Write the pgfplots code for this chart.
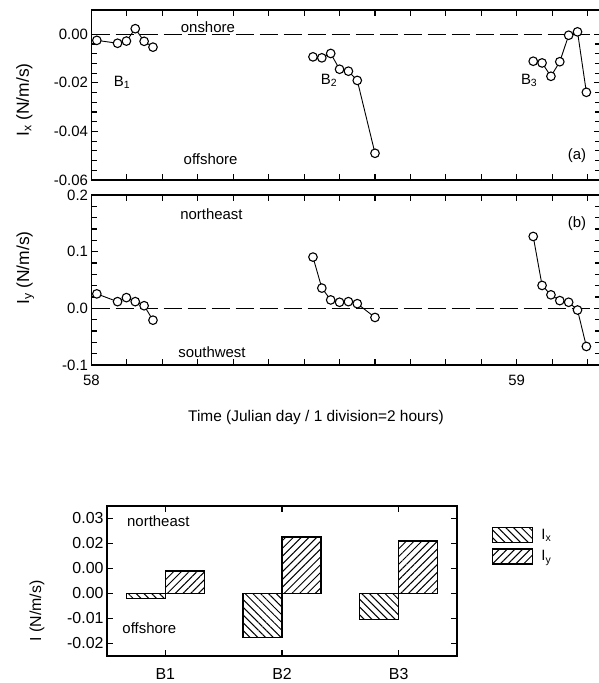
\documentclass[border=0pt]{standalone}
\usepackage{pgfplots}
\pgfplotsset{compat=1.18}
\usepackage{fontspec}
\setmainfont{Liberation Sans}
\usetikzlibrary{patterns.meta}

\newcommand{\fs}{\fontsize{15}{18}\selectfont}
\newcommand{\fb}{\fontsize{16}{19}\selectfont}
\newcommand{\fl}{\fontsize{17.5}{20}\selectfont}

\pgfplotsset{
  panel/.style={
    scale only axis, width=508.5bp, height=170bp, anchor=south west,
    xmin=0, xmax=28.7,
    xtick={0,2,...,28},
    tick align=inside, tick pos=both,
    major tick length=6bp, minor tick length=5bp,
    axis line style={line width=1.3bp},
    every tick/.style={black, line width=1.1bp},
    minor y tick num=4,
    scaled y ticks=false, scaled x ticks=false,
    tick label style={font=\fs},
    label style={font=\fl},
    clip=false,
  },
  ser/.style={black, line width=0.9bp, mark=*, mark size=4.3bp,
    mark options={line width=1.1bp, fill=white, draw=black}},
  zero/.style={black, line width=1bp, dash pattern=on 18bp off 6bp},
  mylegend/.style={legend image code/.code={\draw[##1,line width=1.2bp] (0bp,-7.5bp) rectangle (40bp,7.5bp);}},
}

\begin{document}
\begin{tikzpicture}[x=1bp,y=1bp]
\useasboundingbox (0,0) rectangle (599,683);

% ---------- panel (a) ----------
\begin{axis}[panel, at={(91.5bp,503bp)},
  ymin=-0.06, ymax=0.01,
  ytick={-0.06,-0.04,-0.02,0}, yticklabels={-0.06,-0.04,-0.02,0.00},
  xticklabels={},
  ylabel={I\textsubscript{x} (N/m/s)},
  ylabel style={at={(axis description cs:-0.132,0.47)}, anchor=center},
]
\addplot[zero] coordinates {(0,0) (28.7,0)};
\addplot[ser] coordinates {(0.3,-0.0025) (1.47,-0.0037) (1.97,-0.0028) (2.47,0.0023) (2.97,-0.0029) (3.47,-0.0053)};
\addplot[ser] coordinates {(12.5,-0.0093) (13.0,-0.0097) (13.5,-0.0079) (14.0,-0.0144) (14.5,-0.0152) (15.0,-0.0190) (16.0,-0.0490)};
\addplot[ser] coordinates {(24.93,-0.0111) (25.43,-0.0118) (25.93,-0.0173) (26.43,-0.0113) (26.93,-0.0004) (27.43,0.0010) (27.93,-0.0239)};
\node[font=\fs] at (axis cs:6.57,0.0028) {onshore};
\node[font=\fs] at (axis cs:6.72,-0.0514) {offshore};
\node[font=\fs] at (axis cs:1.72,-0.0198) {B\textsubscript{1}};
\node[font=\fs] at (axis cs:13.4,-0.0189) {B\textsubscript{2}};
\node[font=\fs] at (axis cs:24.7,-0.0189) {B\textsubscript{3}};
\node[font=\fs] at (axis cs:27.4,-0.0500) {(a)};
\end{axis}

% ---------- panel (b) ----------
\begin{axis}[panel, at={(91.5bp,318bp)},
  ymin=-0.1, ymax=0.2,
  ytick={-0.1,0,0.1,0.2}, yticklabels={-0.1,0.0,0.1,0.2},
  xticklabels={58,,,,,,,,,,,,59,,,},
  xticklabel style={yshift=-7bp},
  ylabel={I\textsubscript{y} (N/m/s)},
  ylabel style={at={(axis description cs:-0.13,0.57)}, anchor=center},
]
\addplot[zero] coordinates {(0,0) (28.7,0)};
\addplot[ser] coordinates {(0.3,0.0255) (1.47,0.0118) (1.97,0.0189) (2.47,0.0118) (2.97,0.0046) (3.47,-0.0209)};
\addplot[ser] coordinates {(12.5,0.0904) (13.0,0.0357) (13.5,0.0148) (14.0,0.0107) (14.5,0.0118) (15.0,0.0082) (16.0,-0.0161)};
\addplot[ser] coordinates {(24.93,0.1268) (25.43,0.0404) (25.93,0.0238) (26.43,0.0136) (26.93,0.0107) (27.43,-0.0030) (27.93,-0.0673)};
\node[font=\fs] at (axis cs:6.77,0.1666) {northeast};
\node[font=\fs] at (axis cs:6.8,-0.078) {southwest};
\node[font=\fs] at (axis cs:27.4,0.149) {(b)};
\end{axis}

\node[font=\fontsize{15.5}{18}\selectfont] at (316bp,265bp) {Time (Julian day / 1 division=2 hours)};

% ---------- bottom bar chart ----------
\begin{axis}[scale only axis, width=350bp, height=150bp, at={(107bp,27bp)}, anchor=south west,
  xmin=-0.5, xmax=2.5, xtick={0,1,2}, xticklabels={B1,B2,B3},
  ymin=-0.025, ymax=0.035,
  ytick={-0.02,-0.01,0,0.01,0.02,0.03},
  yticklabels={-0.02,-0.01,0.00,0.00,0.02,0.03},
  scaled y ticks=false,
  tick align=inside, tick pos=both,
  major tick length=6bp,
  axis line style={line width=1.3bp},
  every tick/.style={black, line width=1.1bp},
  tick label style={font=\fb},
  label style={font=\fb},
  xticklabel style={yshift=-9bp},
  ylabel={I (N/m/s)},
  ylabel style={at={(axis description cs:-0.2,0.3)}, anchor=center},
  legend style={at={(axis description cs:1.1,0.86)}, anchor=north west, draw=none, fill=none,
    font=\fs, row sep=5bp, inner sep=0pt,
    /tikz/every odd column/.append style={column sep=6bp}},
  legend cell align=left,
  clip=false,
]
\addplot[ybar, bar width=0.3333, bar shift=-0.16667, draw=black, line width=1.3bp,
  pattern={Lines[angle=-45,distance=5.5bp,line width=1bp]}, mylegend]
  coordinates {(0,-0.0020) (1,-0.0177) (2,-0.0105)};
\addlegendentry{I\textsubscript{x}}
\addplot[ybar, bar width=0.3333, bar shift=0.16667, draw=black, line width=1.3bp,
  pattern={Lines[angle=45,distance=5.5bp,line width=1bp]}, mylegend]
  coordinates {(0,0.0090) (1,0.0226) (2,0.0210)};
\addlegendentry{I\textsubscript{y}}
\node[font=\fs] at (axis cs:-0.06,0.0288) {northeast};
\node[font=\fs] at (axis cs:-0.137,-0.0137) {offshore};
\end{axis}
\end{tikzpicture}
\end{document}
